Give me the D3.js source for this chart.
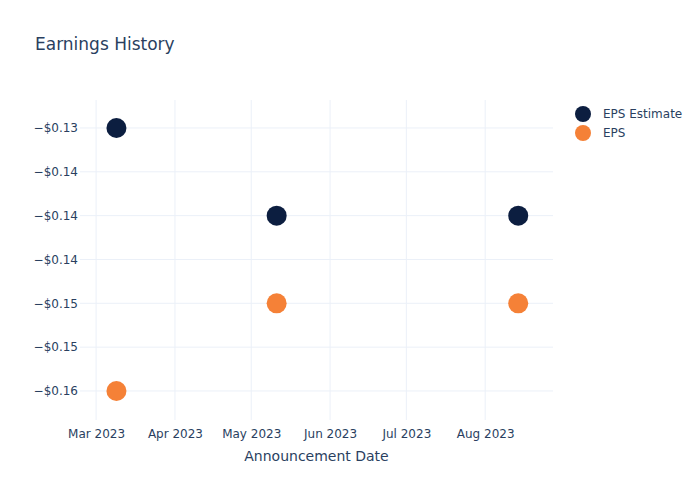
<!DOCTYPE html>
<html><head><meta charset="utf-8">
<script src="https://cdn.jsdelivr.net/npm/d3@7"></script>
<style>body{margin:0;background:#fff}svg{display:block}text{font-family:"DejaVu Sans",sans-serif}</style>
</head><body>
<svg id="c" width="700" height="500"></svg>
<script>
const dates = ["2023-03-09", "2023-05-11", "2023-08-14"];
const epsEstimate = [-0.13, -0.14, -0.14];
const eps = [-0.16, -0.15, -0.15];
const seriesNames = ["EPS Estimate", "EPS"];
const seriesColors = ["#0c1e40", "#f58137"];
const yTickValues = [-0.13, -0.135, -0.14, -0.145, -0.15, -0.155, -0.16];
const yTickLabels = ["−$0.13", "−$0.14", "−$0.14", "−$0.14", "−$0.15", "−$0.15", "−$0.16"];
const xTickDates = ["2023-03-01", "2023-04-01", "2023-05-01", "2023-06-01", "2023-07-01", "2023-08-01"];
const xTickLabels = ["Mar 2023", "Apr 2023", "May 2023", "Jun 2023", "Jul 2023", "Aug 2023"];

const parse = d3.utcParse("%Y-%m-%d");
const svg = d3.select("#c");
const L = 80, R = 553, T = 100, B = 420;
const textColor = "#2a3f5f", grid = "#ebf0f8";

const x = d3.scaleUtc()
  .domain([new Date(Date.UTC(2023,1,22,16)), new Date(Date.UTC(2023,7,27,16))])
  .range([L, R]);
const y = d3.scaleLinear().domain([-0.16331, -0.12681]).range([B, T]);

// grid
const g = svg.append("g");
g.selectAll(".vg").data(xTickDates).join("line")
  .attr("x1", d => x(parse(d))).attr("x2", d => x(parse(d)))
  .attr("y1", T).attr("y2", B).attr("stroke", grid).attr("stroke-width", 1);
g.selectAll(".hg").data(yTickValues).join("line")
  .attr("x1", L).attr("x2", R)
  .attr("y1", d => y(d)).attr("y2", d => y(d)).attr("stroke", grid).attr("stroke-width", 1);

// axes via d3 axis
const xAxis = d3.axisBottom(x).tickValues(xTickDates.map(parse))
  .tickFormat((d, i) => xTickLabels[i]).tickSize(0).tickPadding(9);
const xa = svg.append("g").attr("transform", `translate(0,${B})`).call(xAxis);
xa.select(".domain").remove();
xa.selectAll("text").attr("fill", textColor).style("font-size", "12px");

const yAxis = d3.axisLeft(y).tickValues(yTickValues)
  .tickFormat((d, i) => yTickLabels[i]).tickSize(0).tickPadding(2);
const ya = svg.append("g").attr("transform", `translate(${L},0)`).call(yAxis);
ya.select(".domain").remove();
ya.selectAll("text").attr("fill", textColor).style("font-size", "12px");

// points
const series = [epsEstimate, eps];
series.forEach((vals, si) => {
  svg.append("g").selectAll("circle").data(vals).join("circle")
    .attr("cx", (d, i) => x(parse(dates[i])))
    .attr("cy", d => y(d))
    .attr("r", 10)
    .attr("fill", seriesColors[si]);
});

// title
svg.append("text").attr("x", 35).attr("y", 50).text("Earnings History")
  .attr("fill", textColor).style("font-size", "17px");

// x axis title
svg.append("text").attr("x", (L + R) / 2).attr("y", 461).attr("text-anchor", "middle")
  .text("Announcement Date").attr("fill", textColor).style("font-size", "14px");

// legend
const lg = svg.append("g");
seriesNames.forEach((n, i) => {
  lg.append("circle").attr("cx", 583).attr("cy", 114 + i * 19).attr("r", 8).attr("fill", seriesColors[i]);
  lg.append("text").attr("x", 603).attr("y", 114 + i * 19).attr("dy", "0.35em")
    .text(n).attr("fill", textColor).style("font-size", "12px");
});
</script>
</body></html>
